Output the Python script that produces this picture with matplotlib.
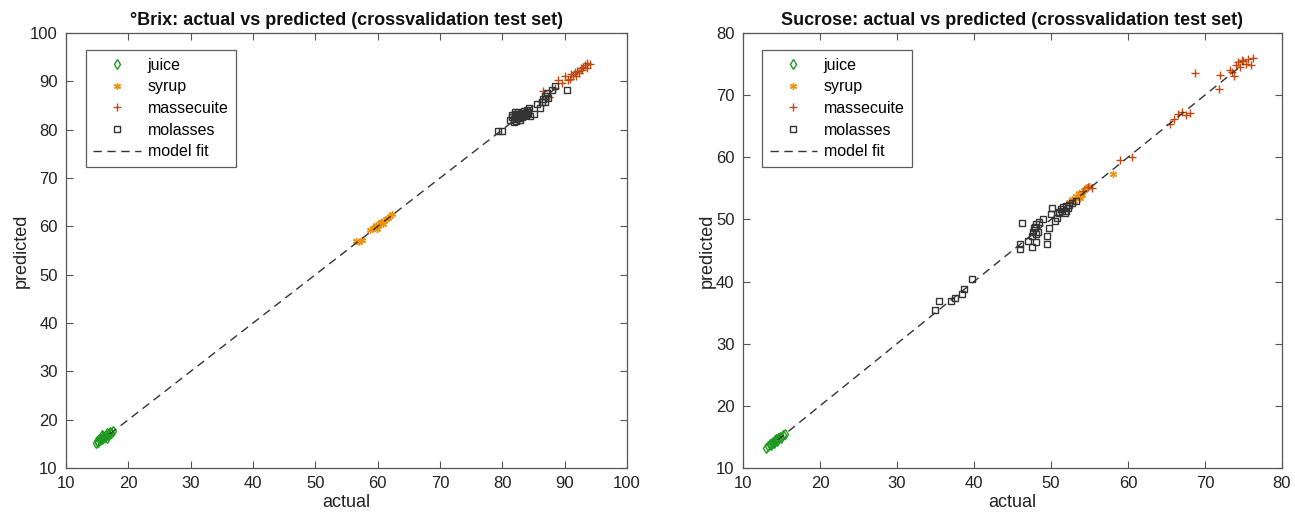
import matplotlib
matplotlib.use("Agg")
import matplotlib.pyplot as plt
import numpy as np

# --- °Brix: actual vs predicted ---
brix_juice_act = [14.8, 15.0, 15.2, 15.4, 15.5, 15.7, 15.9, 16.0, 16.2, 16.4, 16.6, 16.8, 17.0, 17.2, 17.5, 15.3, 15.8, 16.5]
brix_juice_pred = [15.2, 15.5, 15.3, 15.8, 16.0, 15.9, 16.3, 16.6, 16.4, 16.9, 17.2, 16.8, 17.4, 17.3, 17.6, 15.9, 16.8, 16.2]

brix_syrup_act = [56.5, 57.0, 57.5, 58.8, 59.2, 59.5, 59.8, 60.0, 60.3, 60.6, 61.0, 61.3, 61.6, 62.0, 62.3, 60.8, 59.9]
brix_syrup_pred = [57.0, 56.8, 57.2, 59.2, 59.6, 59.8, 60.2, 60.0, 60.6, 60.9, 61.0, 61.6, 61.8, 62.1, 62.6, 60.5, 59.4]

brix_masse_act = [86.5, 87.5, 88.5, 89.5, 90.0, 90.5, 91.0, 91.3, 91.6, 92.0, 92.3, 92.6, 93.0, 93.3, 93.6, 94.0, 91.8, 92.8, 93.5, 90.8, 89.0]
brix_masse_pred = [88.0, 86.8, 88.6, 89.6, 91.0, 90.2, 91.5, 91.0, 92.0, 92.2, 91.8, 92.8, 93.0, 93.3, 93.8, 93.5, 91.2, 92.3, 92.8, 90.5, 90.2]

brix_mol_act = [79.3, 80.0, 81.2, 81.5, 81.8, 82.0, 82.3, 82.5, 82.8, 83.0, 83.3, 83.5, 83.8, 84.0, 84.5, 85.0,
                85.5, 86.0, 86.3, 86.8, 87.2, 88.0, 88.5, 90.3, 82.2, 83.6, 84.2, 82.6,
                81.6, 82.0, 82.4, 82.7, 83.1, 83.4, 83.7, 84.1, 82.9, 83.2, 83.9, 82.1, 81.9, 86.5, 86.9, 87.3]
brix_mol_pred = [79.8, 79.8, 82.0, 83.0, 82.2, 83.3, 82.5, 83.6, 82.0, 83.2, 82.8, 83.8, 83.0, 84.0, 82.8, 83.3,
                 85.3, 84.5, 85.8, 87.0, 87.5, 88.2, 89.0, 88.2, 81.8, 83.4, 84.5, 82.4,
                 82.6, 82.8, 83.0, 82.9, 83.5, 83.0, 83.4, 83.6, 83.1, 82.6, 83.2, 83.6, 81.5, 86.3, 85.8, 86.6]

brix_fit = [17.0, 89.0]

# --- Sucrose: actual vs predicted ---
suc_juice_act = [13.0, 13.3, 13.5, 13.7, 13.9, 14.0, 14.2, 14.4, 14.6, 14.8, 15.0, 15.2, 15.4, 13.8, 14.3]
suc_juice_pred = [13.2, 13.6, 13.9, 13.7, 14.2, 14.0, 14.5, 14.3, 14.8, 15.0, 14.9, 15.3, 15.5, 14.1, 14.6]

suc_syrup_act = [52.3, 52.7, 53.0, 53.3, 53.6, 54.0, 54.3, 54.7, 55.0, 58.0, 53.8]
suc_syrup_pred = [52.8, 53.3, 53.0, 53.8, 54.2, 54.0, 54.8, 55.2, 55.4, 57.3, 53.5]

suc_masse_act = [54.2, 54.8, 55.3, 59.0, 60.5, 65.5, 66.0, 66.5, 67.0, 67.5, 68.0, 68.7, 71.8, 72.0, 73.3, 73.8, 74.0, 74.3, 74.6, 75.0, 75.3, 75.6, 76.0, 76.3, 74.8, 73.5]
suc_masse_pred = [54.5, 55.2, 55.0, 59.6, 60.0, 65.3, 66.2, 67.0, 67.3, 66.8, 67.2, 73.5, 71.0, 73.3, 74.0, 73.0, 74.8, 75.3, 74.5, 75.5, 75.0, 75.8, 74.8, 76.0, 75.6, 73.8]

suc_mol_act = [35.0, 35.5, 37.0, 37.5, 38.5, 38.7, 39.8, 46.0, 46.0, 46.2, 47.0, 47.5, 47.6, 47.8, 48.0, 48.0, 48.3,
               48.5, 49.0, 49.5, 49.8, 50.0, 50.2, 50.5, 51.0, 51.3, 51.6, 52.0, 52.4, 52.8, 53.2, 49.5, 50.8, 51.8,
               47.7, 47.9, 48.1, 51.1, 51.5, 51.9, 52.2]
suc_mol_pred = [35.5, 36.8, 36.8, 37.4, 38.0, 38.8, 40.4, 45.2, 46.0, 49.4, 46.6, 45.6, 47.3, 48.6, 49.2, 46.3, 48.0,
                49.6, 50.0, 46.1, 48.6, 50.8, 51.8, 49.8, 51.2, 51.6, 52.0, 51.4, 52.4, 52.6, 53.0, 47.4, 50.2, 51.0,
                48.0, 48.8, 47.6, 51.0, 51.3, 52.1, 51.8]

suc_fit = [14.5, 75.0]

juice_color = "#1f9a1f"
syrup_color = "#f0900f"
masse_color = "#c04a10"
mol_color = "#333333"
axis_color = "#555555"

plt.rcParams["font.family"] = ["Liberation Sans", "DejaVu Sans"]

fig = plt.figure(figsize=(12.95, 5.21), dpi=100)
ax1 = fig.add_axes([0.051, 0.1017, 0.4332, 0.835])
ax2 = fig.add_axes([0.5737, 0.1017, 0.4162, 0.835])


def draw(ax, data, fit, xlim, ylim, ticks, title):
    (ja, jp), (sa, sp), (ma, mp), (la, lp) = data
    ax.plot(ja, jp, linestyle="none", marker="d", markersize=5, markerfacecolor="none",
            markeredgecolor=juice_color, markeredgewidth=1.0, label="juice")
    ax.plot(sa, sp, linestyle="none", marker=(6, 2, 0), markersize=5,
            color=syrup_color, markeredgewidth=1.0, label="syrup")
    ax.plot(ma, mp, linestyle="none", marker="+", markersize=6,
            color=masse_color, markeredgewidth=1.0, label="massecuite")
    ax.plot(la, lp, linestyle="none", marker="s", markersize=4.5, markerfacecolor="none",
            markeredgecolor=mol_color, markeredgewidth=1.0, label="molasses")
    ax.plot(fit, fit, linestyle=(0, (6, 4)), color="#333333", linewidth=1.0, label="model fit")
    ax.set_xlim(*xlim)
    ax.set_ylim(*ylim)
    ax.set_xticks(ticks[0])
    ax.set_yticks(ticks[1])
    ax.tick_params(direction="in", length=5, colors=axis_color, labelcolor="#222222",
                   labelsize=12, top=True, right=True, pad=6)
    for sp_ in ax.spines.values():
        sp_.set_color(axis_color)
        sp_.set_linewidth(0.9)
    ax.set_xlabel("actual", fontsize=13, color="#222222", labelpad=2)
    ax.set_ylabel("predicted", fontsize=13, color="#222222", labelpad=0)
    ax.set_title(title, fontsize=13, fontweight="bold", color="#111111", pad=6)
    leg = ax.legend(loc="upper left", bbox_to_anchor=(0.036, 0.96), fontsize=11.5,
                    frameon=True, fancybox=False, edgecolor="#333333",
                    handlelength=3.0, handletextpad=0.4, borderpad=0.45,
                    labelspacing=0.42, borderaxespad=0)
    leg.get_frame().set_linewidth(0.9)


draw(ax1,
     [(brix_juice_act, brix_juice_pred), (brix_syrup_act, brix_syrup_pred),
      (brix_masse_act, brix_masse_pred), (brix_mol_act, brix_mol_pred)],
     brix_fit, (10, 100), (10, 100),
     (np.arange(10, 101, 10), np.arange(10, 101, 10)),
     "°Brix: actual vs predicted (crossvalidation test set)")

draw(ax2,
     [(suc_juice_act, suc_juice_pred), (suc_syrup_act, suc_syrup_pred),
      (suc_masse_act, suc_masse_pred), (suc_mol_act, suc_mol_pred)],
     suc_fit, (10, 80), (10, 80),
     (np.arange(10, 81, 10), np.arange(10, 81, 10)),
     "Sucrose: actual vs predicted (crossvalidation test set)")

fig.savefig("out.png", dpi=100)
